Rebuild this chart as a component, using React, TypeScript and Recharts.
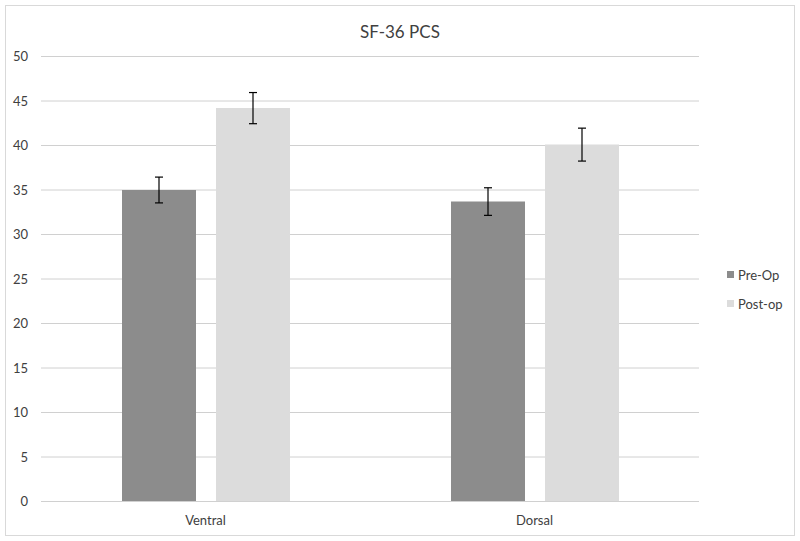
import { BarChart, Bar, XAxis, YAxis, CartesianGrid, ErrorBar } from "recharts";

const categories = ["Ventral", "Dorsal"];
const preOp = [35.0, 33.7];
const postOp = [44.2, 40.1];
const preOpErr = [1.45, 1.55];
const postOpErr = [1.75, 1.85];
const yTicks = [0, 5, 10, 15, 20, 25, 30, 35, 40, 45, 50];

const PRE_COLOR = "#8c8c8c";
const POST_COLOR = "#dcdcdc";
const TEXT = "#404040";
const FONT = "Lato, 'Open Sans', sans-serif";

const data = categories.map((name, i) => ({
  name,
  pre: preOp[i],
  post: postOp[i],
  preErr: preOpErr[i],
  postErr: postOpErr[i],
}));

// legend drawn outside the chart so it doesn't eat plot width
const LegendBox = () => (
  <div
    style={{
      position: "absolute",
      left: 727,
      top: 260,
      fontFamily: FONT,
      fontSize: 13,
      color: TEXT,
    }}
  >
    {[
      { label: "Pre-Op", color: PRE_COLOR },
      { label: "Post-op", color: POST_COLOR },
    ].map((item) => (
      <div key={item.label} style={{ display: "flex", alignItems: "center", height: 29 }}>
        <span style={{ width: 7, height: 7, background: item.color, marginRight: 4 }} />
        <span>{item.label}</span>
      </div>
    ))}
  </div>
);

export default function App() {
  return (
    <div style={{ position: "absolute", left: 0, top: 0, width: 800, height: 541, background: "#fff" }}>
      <div
        style={{
          position: "absolute",
          left: 5,
          top: 5,
          width: 788,
          height: 529,
          border: "1px solid #d9d9d9",
        }}
      />
      <div
        style={{
          position: "absolute",
          left: 0,
          width: 800,
          top: 21,
          textAlign: "center",
          fontFamily: FONT,
          fontSize: 17,
          color: TEXT,
        }}
      >
        SF-36 PCS
      </div>
      <BarChart
        width={800}
        height={541}
        data={data}
        margin={{ top: 56.5, right: 101, bottom: 0, left: 0 }}
        barCategoryGap="24.5%"
        barGap={20}
        style={{ position: "absolute", left: 0, top: 0 }}
      >
        <CartesianGrid vertical={false} stroke="#d0d0d0" />
        <XAxis
          dataKey="name"
          height={39.5}
          tickLine={false}
          axisLine={{ stroke: "#d0d0d0" }}
          tickMargin={8}
          tick={{ fill: TEXT, fontSize: 13, fontFamily: FONT }}
        />
        <YAxis
          width={41}
          domain={[0, 50]}
          ticks={yTicks}
          interval={0}
          tickLine={false}
          axisLine={false}
          tickMargin={7}
          tick={{ fill: TEXT, fontSize: 13, fontFamily: FONT }}
        />
        <Bar dataKey="pre" name="Pre-Op" fill={PRE_COLOR} barSize={74} isAnimationActive={false}>
          <ErrorBar dataKey="preErr" width={4} stroke="#000" strokeWidth={1.2} direction="y" />
        </Bar>
        <Bar dataKey="post" name="Post-op" fill={POST_COLOR} barSize={74} isAnimationActive={false}>
          <ErrorBar dataKey="postErr" width={4} stroke="#000" strokeWidth={1.2} direction="y" />
        </Bar>
      </BarChart>
      <LegendBox />
    </div>
  );
}
